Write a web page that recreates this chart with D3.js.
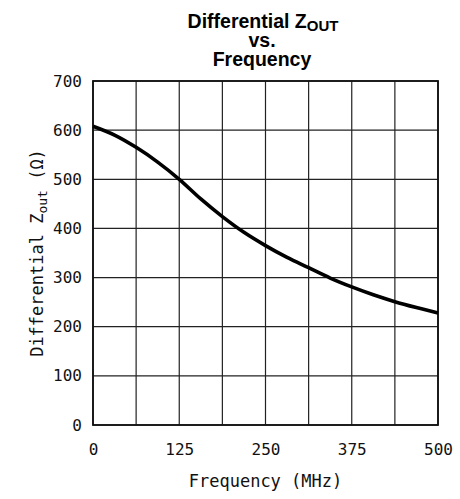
<!DOCTYPE html>
<html><head><meta charset="utf-8">
<script src="https://cdn.jsdelivr.net/npm/d3@7"></script>
<style>
html,body{margin:0;padding:0;background:#fff;}
svg{display:block;}
</style></head>
<body>
<svg id="c" width="460" height="499"></svg>
<script>
// Data
const freqMHz = [0, 31.25, 62.5, 93.75, 125, 156.25, 187.5, 218.75, 250, 281.25, 312.5, 343.75, 375, 406.25, 437.5, 468.75, 500];
const zOut    = [608, 590, 565, 535, 500, 460, 424, 392, 365, 341, 320, 299, 281, 265, 251, 239, 228];
const xTickLabels = [0, 125, 250, 375, 500];
const xGrid = [0, 62.5, 125, 187.5, 250, 312.5, 375, 437.5, 500];
const yTickLabels = [0, 100, 200, 300, 400, 500, 600, 700];

const svg = d3.select("#c");
const L = 93, R = 438, T = 81, B = 425;
const x = d3.scaleLinear().domain([0, 500]).range([L, R]);
const y = d3.scaleLinear().domain([0, 700]).range([B, T]);

const mono = "'DejaVu Sans Mono', monospace";

// grid
const g = svg.append("g");
g.selectAll("line.vx").data(xGrid).join("line")
  .attr("x1", d => x(d)).attr("x2", d => x(d)).attr("y1", T).attr("y2", B)
  .attr("stroke", "#222").attr("stroke-width", 1.2);
g.selectAll("line.hy").data(yTickLabels).join("line")
  .attr("x1", L).attr("x2", R).attr("y1", d => y(d)).attr("y2", d => y(d))
  .attr("stroke", "#222").attr("stroke-width", 1.2);
svg.append("rect").attr("x", L).attr("y", T).attr("width", R - L).attr("height", B - T)
  .attr("fill", "none").attr("stroke", "#111").attr("stroke-width", 1.8);

// axes labels via d3 axes
const xAxis = d3.axisBottom(x).tickValues(xTickLabels).tickSize(0).tickPadding(0).tickFormat(d3.format("d"));
const xa = svg.append("g").attr("transform", `translate(0,${B})`).call(xAxis);
xa.select(".domain").remove();
xa.selectAll("text").attr("y", 30).attr("dy", 0).attr("font-family", mono).attr("font-size", 16).attr("fill", "#111");

const yAxis = d3.axisLeft(y).tickValues(yTickLabels).tickSize(0).tickPadding(11).tickFormat(d3.format("d"));
const ya = svg.append("g").attr("transform", `translate(${L},0)`).call(yAxis);
ya.select(".domain").remove();
ya.selectAll("text").attr("font-family", mono).attr("font-size", 16).attr("fill", "#111");

// curve
const line = d3.line().x((d, i) => x(freqMHz[i])).y(d => y(d)).curve(d3.curveCatmullRom.alpha(0.5));
svg.append("path").datum(zOut).attr("d", line)
  .attr("fill", "none").attr("stroke", "#000").attr("stroke-width", 3.6).attr("stroke-linecap", "butt");

// title
const tf = "'Liberation Sans', Arial, sans-serif";
const t1 = svg.append("text").attr("x", 263).attr("y", 28).attr("text-anchor", "middle")
  .attr("font-family", tf).attr("font-weight", "bold").attr("font-size", 19.5).attr("fill", "#000");
t1.append("tspan").text("Differential Z");
t1.append("tspan").attr("font-size", 15).attr("dy", 3).text("OUT");
svg.append("text").attr("x", 262).attr("y", 47).attr("text-anchor", "middle")
  .attr("font-family", tf).attr("font-weight", "bold").attr("font-size", 19.5).text("vs.");
svg.append("text").attr("x", 262).attr("y", 66).attr("text-anchor", "middle")
  .attr("font-family", tf).attr("font-weight", "bold").attr("font-size", 19.5).text("Frequency");

// axis titles
svg.append("text").attr("x", (L + R) / 2).attr("y", 487).attr("text-anchor", "middle")
  .attr("font-family", mono).attr("font-size", 17).attr("fill", "#111").text("Frequency (MHz)");
const yt = svg.append("text").attr("transform", `translate(43,${(T + B) / 2}) rotate(-90)`)
  .attr("text-anchor", "middle").attr("font-family", mono).attr("font-size", 17).attr("fill", "#111");
yt.append("tspan").text("Differential Z");
yt.append("tspan").attr("font-size", 13).attr("dy", 4).text("out");
yt.append("tspan").attr("dy", -4).text(" (Ω)");
</script>
</body></html>
